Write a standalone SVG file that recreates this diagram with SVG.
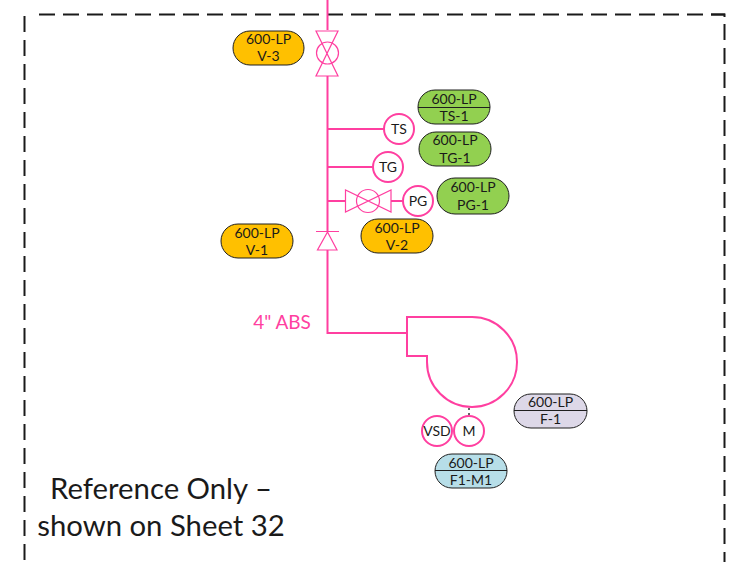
<svg xmlns="http://www.w3.org/2000/svg" width="731" height="562" viewBox="0 0 731 562">
<defs><style>
text{font-family:Lato,"Liberation Sans",sans-serif;text-anchor:middle;fill:#1a1a1a}
.t{font-size:14px}
.p{stroke:#1f1f1f;stroke-width:1}
.o{fill:#FFC000}.g{fill:#92D050}.u{fill:#DDD8E8}.b{fill:#B7DEE8}
.s{fill:none;stroke:#FF3FA0;stroke-width:1.2}
.pipe{fill:none;stroke:#FF3FA0;stroke-width:2}
.i{fill:#fff;stroke:#FF3FA0;stroke-width:2}
.d{fill:none;stroke:#1a1a1a;stroke-width:2;stroke-dasharray:16 8}
</style></defs>
<rect width="731" height="562" fill="#fff"/>
<g id="frame">
<path class="d" d="M24.5 560V14.5"/>
<path class="d" d="M39 14.5H725"/>
<path class="d" d="M724.5 24V562"/>
<path d="M711 14.5H724.5V17" fill="none" stroke="#1a1a1a" stroke-width="2"/>
</g>
<g id="connectors">
<path class="pipe" d="M327.500 0V30M327.500 76V231M327.500 250V333H407M327.500 129H384M327.500 167H373M327.500 201H345M391 201H403"/>
<path d="M469 408V415" fill="none" stroke="#333" stroke-width="1.5" stroke-dasharray="2 3"/>
</g>
<g id="V-3-valve"><path class="s" d="M316 31H338L316 76H338Z"/><circle class="s" cx="327.500" cy="53" r="11"/></g>
<g id="V-1-valve"><path class="s" d="M316 231.500H339M327.500 232L337 250H317.500Z"/></g>
<g id="V-2-valve"><path class="s" d="M345.500 190V212L391 190V212Z"/><circle class="s" cx="368" cy="201" r="11.500"/></g>
<g id="TS"><circle class="i" cx="399" cy="129" r="15"/><text class="t" x="399" y="134">TS</text></g>
<g id="TG"><circle class="i" cx="388" cy="167" r="15"/><text class="t" x="388" y="172">TG</text></g>
<g id="PG"><circle class="i" cx="418" cy="201" r="15"/><text class="t" x="418" y="206">PG</text></g>
<g id="fan"><path class="pipe" d="M407 317H472A45 45 0 1 1 427 362V356H407Z"/></g>
<g id="VSD"><circle class="i" cx="437" cy="431" r="15"/><text class="t" x="437" y="436">VSD</text></g>
<g id="M"><circle class="i" cx="469" cy="431" r="15"/><text class="t" x="469" y="436">M</text></g>
<g id="tag-V-3"><rect class="p o" x="233" y="31" width="71" height="34" rx="17"/><text class="t" x="268.500" y="44">600-LP</text><text class="t" x="268.500" y="61">V-3</text></g>
<g id="tag-TS-1"><rect class="p g" x="418" y="90" width="72" height="34" rx="17"/><path class="p" d="M418 107.500H490"/><text class="t" x="454" y="104">600-LP</text><text class="t" x="454" y="121">TS-1</text></g>
<g id="tag-TG-1"><rect class="p g" x="419" y="132" width="72" height="34" rx="17"/><text class="t" x="455" y="145">600-LP</text><text class="t" x="455" y="163">TG-1</text></g>
<g id="tag-PG-1"><rect class="p g" x="437" y="178" width="72" height="36" rx="18"/><text class="t" x="473" y="192">600-LP</text><text class="t" x="473" y="210">PG-1</text></g>
<g id="tag-V-2"><rect class="p o" x="361" y="219" width="72" height="34" rx="17"/><text class="t" x="397" y="233">600-LP</text><text class="t" x="397" y="250">V-2</text></g>
<g id="tag-V-1"><rect class="p o" x="221" y="224" width="72" height="34" rx="17"/><text class="t" x="257" y="238">600-LP</text><text class="t" x="257" y="255">V-1</text></g>
<g id="tag-F-1"><rect class="p u" x="514" y="394" width="73" height="34" rx="17"/><path class="p" d="M514 410.500H587"/><text class="t" x="550.500" y="407">600-LP</text><text class="t" x="550.500" y="424">F-1</text></g>
<g id="tag-F1-M1"><rect class="p b" x="435" y="454" width="72" height="34" rx="17"/><path class="p" d="M435 470.500H507"/><text class="t" x="471" y="468">600-LP</text><text class="t" x="471" y="485">F1-M1</text></g>
<text x="282" y="329" style="font-size:19px;fill:#FF3FA0">4" ABS</text>
<text x="161" y="498.500" style="font-size:29.300px">Reference Only –</text>
<text x="161" y="535.500" style="font-size:29.300px">shown on Sheet 32</text>
</svg>
